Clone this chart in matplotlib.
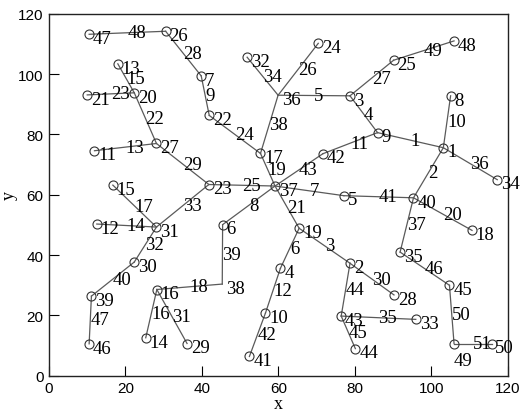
import numpy as np
import matplotlib
matplotlib.use("Agg")
import matplotlib.pyplot as plt

# node coordinates, node k is at index k-1
node_x = [103.1, 78.7, 78.7, 60.5, 77.1, 45.4, 39.8, 105.0, 85.9, 56.6,
          11.9, 12.5, 18.0, 25.3, 16.7, 28.2, 55.3, 110.6, 65.4, 22.3,
          10.0, 41.9, 41.8, 70.4, 90.1, 30.5, 28.1, 90.2, 36.1, 22.3,
          28.1, 51.8, 95.9, 117.2, 91.8, 59.9, 59.1, 45.3, 11.1, 95.3,
          52.4, 71.6, 76.4, 80.1, 104.7, 10.5, 10.5, 105.9, 105.9, 115.7]
node_y = [75.6, 37.3, 92.8, 35.6, 59.7, 50.1, 99.4, 92.8, 80.6, 20.8,
          74.6, 50.3, 103.4, 12.6, 63.2, 28.6, 73.7, 48.2, 48.9, 93.8,
          93.1, 86.3, 63.4, 110.2, 104.6, 114.2, 77.0, 26.8, 10.7, 37.7,
          49.3, 105.6, 18.7, 65.0, 41.0, 93.0, 62.9, 30.4, 26.4, 59.0,
          6.4, 73.6, 19.8, 9.0, 30.0, 10.6, 113.2, 111.0, 10.7, 10.7]
hidden_nodes = [36, 38]   # drawn without a circle

# edges, edge k is at index k-1
edge_from = [9, 1, 19, 3, 36, 19, 37, 37, 7, 1,
             9, 4, 11, 12, 13, 16, 15, 38, 17, 40,
             37, 20, 21, 22, 23, 36, 3, 26, 27, 2,
             16, 31, 23, 32, 43, 1, 40, 36, 6, 30,
             5, 10, 42, 2, 43, 35, 39, 47, 25, 45, 49]
edge_to = [1, 40, 2, 9, 3, 4, 5, 6, 22, 8,
           42, 10, 27, 31, 20, 14, 31, 16, 37, 18,
           19, 27, 20, 17, 37, 24, 25, 7, 23, 28,
           29, 30, 31, 36, 33, 34, 35, 17, 38, 39,
           40, 41, 37, 43, 44, 45, 46, 26, 48, 49, 50]

fig = plt.figure(figsize=(5.21, 4.10), dpi=100)
ax = fig.add_axes([0.094, 0.081, 0.881, 0.883])

font = dict(family="Liberation Serif", fontsize=13.5, color="black")

for k in range(len(edge_from)):
    a = edge_from[k] - 1
    b = edge_to[k] - 1
    ax.plot([node_x[a], node_x[b]], [node_y[a], node_y[b]], color="#5a5a5a", lw=0.9, zorder=1)
    mx = (node_x[a] + node_x[b]) / 2
    my = (node_y[a] + node_y[b]) / 2
    ax.text(mx, my, str(k + 1), ha="left", va="center", zorder=3, **font)

for i in range(len(node_x)):
    nid = i + 1
    if nid not in hidden_nodes:
        ax.plot(node_x[i], node_y[i], "o", ms=6.5, mfc="none", mec="#333333", mew=0.8, zorder=2)
    dx, dy = 1.0, -1.4
    if nid == 49:  # label sits under the node, clear of edge label 51
        dx, dy = 0.0, -5.6
    ax.text(node_x[i] + dx, node_y[i] + dy, str(nid), ha="left", va="center", zorder=3, **font)

ax.set_xlim(0, 120)
ax.set_ylim(0, 120)
ax.set_xticks(np.arange(0, 121, 20))
ax.set_yticks(np.arange(0, 121, 20))
ax.tick_params(direction="in", length=7, width=0.8, labelsize=11, pad=4, top=False, right=False)
for lab in ax.get_xticklabels() + ax.get_yticklabels():
    lab.set_family("Liberation Sans")
for sp in ax.spines.values():
    sp.set_linewidth(1.0)
    sp.set_color("#222222")
ax.set_xlabel("x", family="Liberation Serif", fontsize=13, labelpad=0)
ax.set_ylabel("y", family="Liberation Serif", fontsize=13, labelpad=0)

fig.savefig("out.png", dpi=100)
